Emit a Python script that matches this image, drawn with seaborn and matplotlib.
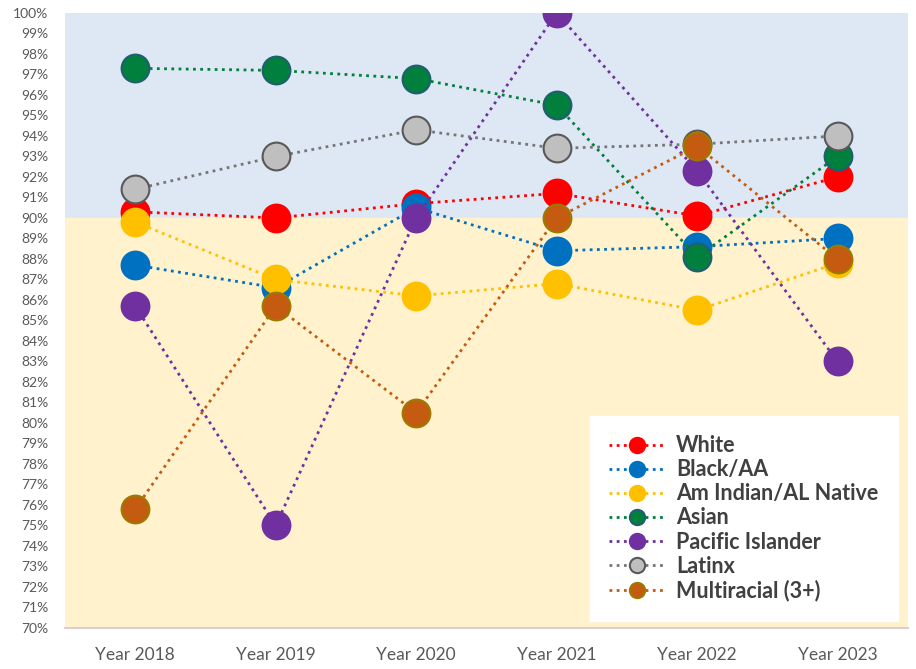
import pandas as pd
import matplotlib
matplotlib.use("Agg")
import matplotlib.pyplot as plt
import seaborn as sns
from matplotlib.ticker import PercentFormatter

# Data
years = ["Year 2018", "Year 2019", "Year 2020", "Year 2021", "Year 2022", "Year 2023"]
white = [90.3, 90.0, 90.7, 91.2, 90.1, 92.0]
black = [87.7, 86.6, 90.5, 88.4, 88.6, 89.0]
am_indian = [89.8, 87.0, 86.2, 86.8, 85.5, 87.8]
asian = [97.3, 97.2, 96.8, 95.5, 88.1, 93.0]
pacific = [85.7, 75.0, 90.0, 100.0, 92.3, 83.0]
latinx = [91.4, 93.0, 94.3, 93.4, 93.6, 94.0]
multiracial = [75.8, 85.7, 80.5, 90.0, 93.5, 88.0]

groups = ["White", "Black/AA", "Am Indian/AL Native", "Asian",
          "Pacific Islander", "Latinx", "Multiracial (3+)"]
values = [white, black, am_indian, asian, pacific, latinx, multiracial]
colors = ["#FF0000", "#0070C0", "#FFC000", "#00803C", "#7030A0", "#BFBFBF", "#C55A11"]
line_colors = ["#FF0000", "#0070C0", "#FFC000", "#00803C", "#7030A0", "#767676", "#C55A11"]
edges = ["#FF0000", "#0070C0", "#FFC000", "#1F5F6F", "#7030A0", "#595959", "#9C7A00"]

df = pd.DataFrame({
    "Year": years * len(groups),
    "Group": [g for g in groups for _ in years],
    "Rate": [v for vals in values for v in vals],
})

sns.set_style("white")
plt.rcParams["font.family"] = ["Lato", "DejaVu Sans"]

fig = plt.figure(figsize=(9.16, 6.69), dpi=100)
ax = fig.add_axes([0.071, 0.0613, 0.92, 0.9193])

# Background bands
ax.axhspan(90, 100, color="#DEE8F5", zorder=0)
ax.axhspan(70, 90, color="#FFF2CC", zorder=0)

for g, c, lc, e in zip(groups, colors, line_colors, edges):
    sub = df[df["Group"] == g]
    sns.lineplot(data=sub, x="Year", y="Rate", ax=ax, color=lc, label=g,
                 linestyle=(0, (1, 1.6)), linewidth=2, marker="o",
                 markersize=20, markerfacecolor=c, markeredgecolor=e,
                 markeredgewidth=1.5, sort=False)

ax.set_xlim(-0.5, 5.5)
ax.set_ylim(70, 100)
ax.set_yticks(range(70, 101))
ax.yaxis.set_major_formatter(PercentFormatter(decimals=0))
ax.set_xlabel("")
ax.set_ylabel("")
ax.tick_params(axis="y", labelsize=10, colors="#595959", length=0, pad=12)
ax.tick_params(axis="x", labelsize=12.5, colors="#595959", length=0, pad=14)

for s in ["top", "right", "left"]:
    ax.spines[s].set_visible(False)
ax.spines["bottom"].set_color("#D9D0D0")
ax.spines["bottom"].set_linewidth(1.5)

# Legend box in the lower right corner
leg = ax.legend(loc="lower right", bbox_to_anchor=(0.988, 0.012), borderaxespad=0,
                frameon=True, fancybox=False, framealpha=1, edgecolor="white",
                prop={"weight": "bold", "size": 15.5}, labelcolor="#404040",
                handlelength=2.6, handletextpad=0.5, labelspacing=0.14,
                borderpad=0.9, markerscale=0.55)
leg.get_frame().set_facecolor("white")
leg.set_zorder(5)

fig.savefig("out.png", dpi=100)
